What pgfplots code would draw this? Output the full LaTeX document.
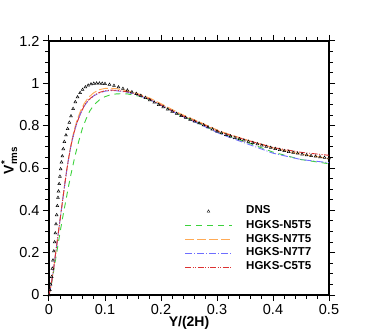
\documentclass[border=0pt]{standalone}
\usepackage{amsmath}
\usepackage{fontspec}
\setmainfont{Liberation Sans}
\usepackage{pgfplots}
\pgfplotsset{compat=1.18}

\definecolor{cgreen}{RGB}{60,210,60}
\definecolor{corange}{RGB}{255,170,85}
\definecolor{cblue}{RGB}{110,110,255}
\definecolor{cred}{RGB}{220,50,50}

\tikzset{
  dns/.style={black, mark=triangle, mark size=1.6pt, mark options={line width=0.5pt}},
  n5t5/.style={draw=cgreen, line width=0.9pt, dash pattern=on 6pt off 5pt},
  n7t5/.style={draw=corange, line width=0.9pt, dash pattern=on 9pt off 3pt},
  n7t7/.style={draw=cblue, line width=0.9pt, dash pattern=on 7pt off 2pt on 1pt off 2pt},
  c5t5/.style={draw=cred, line width=0.9pt, dash pattern=on 6pt off 1.5pt on 1pt off 1.5pt on 1pt off 1.5pt},
  legtext/.style={anchor=mid west, inner sep=0pt, black,
      font=\fontsize{11.5}{13}\selectfont\bfseries},
}

\begin{document}
\begin{tikzpicture}
\path[use as bounding box] (-49pt,-37pt) rectangle (325pt,295pt);
\begin{axis}[
    at={(0,0)}, anchor=south west,
    scale only axis,
    width=280pt, height=254pt,
    xmin=0, xmax=0.5, ymin=0, ymax=1.2,
    xtick={0,0.1,0.2,0.3,0.4,0.5},
    ytick={0,0.2,0.4,0.6,0.8,1,1.2},
    minor x tick num=4,
    minor y tick num=3,
    tick pos=both,
    tick align=outside,
    major tick length=6pt,
    minor tick length=3.5pt,
    axis line style={line width=1.2pt},
    every tick/.style={black, line width=1pt},
    /pgf/number format/assume math mode=true,
    tick label style={font=\fontsize{14.5}{16}\selectfont},
    xlabel={\textbf{Y/(2H)}},
    ylabel={$\text{\bfseries V}^{\text{\bfseries *}}_{\text{\bfseries rms}}$},
    label style={font=\fontsize{14}{16}\selectfont},
    xlabel style={yshift=5pt},
    ylabel style={at={(axis description cs:-0.142,0.53)}, anchor=center},
]
% DNS
\addplot[only marks, dns] coordinates {
(0.0000,0.000) (0.0015,0.025) (0.0030,0.050) (0.0048,0.086) (0.0060,0.125)
(0.0071,0.164) (0.0086,0.207) (0.0101,0.250) (0.0113,0.292) (0.0125,0.335)
(0.0137,0.378) (0.0149,0.421) (0.0160,0.460) (0.0170,0.490) (0.0182,0.525)
(0.0195,0.560) (0.0208,0.595) (0.0222,0.627) (0.0238,0.656) (0.0255,0.690)
(0.0274,0.724) (0.0303,0.755) (0.0333,0.785) (0.0363,0.815) (0.0393,0.845)
(0.0430,0.880) (0.0470,0.912) (0.0510,0.935) (0.0555,0.955) (0.0600,0.970)
(0.0650,0.982) (0.0700,0.990) (0.0750,0.996) (0.0800,0.999) (0.0850,1.000)
(0.0900,1.000) (0.0950,0.999) (0.1000,0.998)
(0.108,0.994) (0.116,0.989) (0.124,0.982) (0.132,0.975) (0.140,0.967)
(0.148,0.959) (0.156,0.951) (0.164,0.942) (0.172,0.932) (0.180,0.921)
(0.188,0.910) (0.196,0.899) (0.204,0.888) (0.212,0.877) (0.220,0.867)
(0.228,0.857) (0.236,0.847) (0.244,0.838) (0.252,0.829) (0.260,0.820)
(0.268,0.812) (0.276,0.803) (0.284,0.793) (0.292,0.783) (0.300,0.773)
(0.308,0.765) (0.316,0.757) (0.324,0.750) (0.332,0.743) (0.340,0.737)
(0.348,0.731) (0.356,0.725) (0.364,0.719) (0.372,0.713) (0.380,0.707)
(0.388,0.701) (0.396,0.696) (0.404,0.691) (0.412,0.686) (0.420,0.681)
(0.428,0.677) (0.436,0.673) (0.444,0.669) (0.452,0.665) (0.460,0.661)
(0.468,0.658) (0.476,0.655) (0.484,0.652) (0.492,0.649) (0.500,0.647)
};
% HGKS-N5T5
\addplot[n5t5] coordinates {
(0.000,0.000) (0.005,0.060) (0.010,0.140) (0.015,0.220) (0.020,0.300)
(0.025,0.375) (0.030,0.445) (0.035,0.515) (0.040,0.580) (0.045,0.640)
(0.050,0.695) (0.055,0.745) (0.060,0.790) (0.066,0.830) (0.073,0.870)
(0.080,0.897) (0.090,0.922) (0.100,0.937) (0.110,0.946) (0.120,0.950)
(0.130,0.951) (0.140,0.950) (0.160,0.940) (0.180,0.922) (0.200,0.897)
(0.234,0.850) (0.270,0.808) (0.305,0.765) (0.350,0.725) (0.400,0.675)
(0.450,0.640) (0.500,0.620)
};
% HGKS-N7T5
\addplot[n7t5] coordinates {
(0.000,0.000) (0.004,0.050) (0.008,0.120) (0.012,0.200) (0.016,0.282)
(0.020,0.362) (0.024,0.442) (0.028,0.522) (0.032,0.598) (0.036,0.665)
(0.040,0.722) (0.045,0.780) (0.050,0.826) (0.056,0.868) (0.063,0.905)
(0.070,0.932) (0.080,0.956) (0.090,0.970) (0.100,0.976) (0.110,0.977)
(0.120,0.975) (0.140,0.965) (0.160,0.950) (0.180,0.930) (0.200,0.904)
(0.234,0.857) (0.270,0.816) (0.305,0.774) (0.350,0.735) (0.400,0.695)
(0.450,0.665) (0.500,0.645)
};
% HGKS-N7T7
\addplot[n7t7] coordinates {
(0.000,0.000) (0.004,0.050) (0.008,0.120) (0.012,0.200) (0.016,0.280)
(0.020,0.360) (0.024,0.440) (0.028,0.520) (0.032,0.595) (0.036,0.660)
(0.040,0.715) (0.045,0.770) (0.050,0.815) (0.056,0.855) (0.063,0.893)
(0.070,0.918) (0.080,0.941) (0.090,0.955) (0.100,0.963) (0.110,0.966)
(0.120,0.965) (0.140,0.958) (0.160,0.943) (0.180,0.923) (0.200,0.896)
(0.234,0.849) (0.270,0.806) (0.305,0.762) (0.350,0.718) (0.400,0.670)
(0.450,0.640) (0.500,0.625)
};
% HGKS-C5T5
\addplot[c5t5] coordinates {
(0.000,0.000) (0.004,0.050) (0.008,0.120) (0.012,0.200) (0.016,0.280)
(0.020,0.360) (0.024,0.440) (0.028,0.520) (0.032,0.595) (0.036,0.660)
(0.040,0.715) (0.045,0.770) (0.050,0.815) (0.056,0.855) (0.063,0.895)
(0.070,0.920) (0.080,0.943) (0.090,0.957) (0.100,0.965) (0.110,0.968)
(0.120,0.967) (0.140,0.960) (0.160,0.945) (0.180,0.925) (0.200,0.898)
(0.234,0.852) (0.270,0.812) (0.305,0.770) (0.350,0.734) (0.400,0.697)
(0.450,0.674) (0.500,0.660)
};
% legend, drawn by hand so that each sample keeps its colour
\path (axis cs:0.2848,0.3968) node[inner sep=0pt] {\tikz[dns]\pgfuseplotmark{triangle};};
\node[legtext] at (axis cs:0.3518,0.3968) {DNS};
\draw[n5t5] (axis cs:0.2429,0.3283) -- (axis cs:0.3268,0.3283);
\node[legtext] at (axis cs:0.3518,0.3283) {HGKS-N5T5};
\draw[n7t5] (axis cs:0.2429,0.2622) -- (axis cs:0.3268,0.2622);
\node[legtext] at (axis cs:0.3518,0.2622) {HGKS-N7T5};
\draw[n7t7] (axis cs:0.2429,0.1984) -- (axis cs:0.3268,0.1984);
\node[legtext] at (axis cs:0.3518,0.1984) {HGKS-N7T7};
\draw[c5t5] (axis cs:0.2429,0.1323) -- (axis cs:0.3268,0.1323);
\node[legtext] at (axis cs:0.3518,0.1323) {HGKS-C5T5};
\end{axis}
\end{tikzpicture}
\end{document}
